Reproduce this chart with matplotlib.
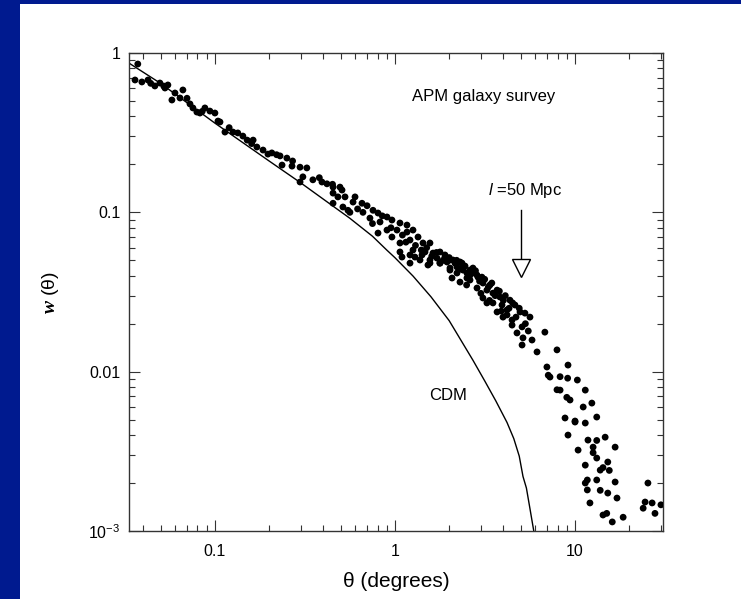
#!/usr/bin/env python3

"""
APM galaxy survey angular correlation function w(theta) against the CDM prediction.
"""

import matplotlib

matplotlib.use("Agg")
import matplotlib.pyplot as plt
from matplotlib.patches import Rectangle

plt.rcParams["font.family"] = ["Liberation Sans", "DejaVu Sans"]
plt.rcParams["mathtext.fontset"] = "custom"
plt.rcParams["mathtext.rm"] = "Liberation Sans"
plt.rcParams["mathtext.it"] = "Liberation Serif:italic:bold"
plt.rcParams["mathtext.sf"] = "Liberation Sans:italic"
plt.rcParams["mathtext.default"] = "regular"

# CDM prediction (theta in degrees, w).
cdm_theta = [0.0333, 0.05, 0.1, 0.2, 0.3, 0.4, 0.56, 0.75, 0.9, 1.0, 1.26, 1.585, 2.0, 2.71,
             3.16, 3.63, 4.19, 4.57, 4.9, 5.14, 5.37, 5.62, 5.9]
cdm_w = [0.865, 0.644, 0.363, 0.21, 0.153, 0.121, 0.092, 0.0708, 0.058, 0.0519, 0.0398, 0.0295,
         0.0209, 0.0118, 0.0087, 0.00656, 0.0048, 0.0038, 0.00295, 0.0022, 0.00186, 0.00138, 0.001]

apm_theta = [
    # small scales
    0.0373, 0.0360, 0.0393, 0.0425, 0.0464, 0.0495, 0.0528, 0.0548, 0.0577, 0.0600,
    0.0640, 0.0664, 0.0727, 0.0755, 0.0794, 0.0826, 0.0880, 0.0938, 0.100, 0.104,
    0.1067, 0.1137, 0.126, 0.134, 0.143, 0.151, 0.163, 0.171, 0.185, 0.197,
    0.207, 0.230, 0.251, 0.236, 0.268, 0.297, 0.324, 0.297, 0.308, 0.350,
    0.393, 0.419, 0.453, 0.495, 0.528, 0.548,
    0.044, 0.052, 0.070, 0.085, 0.12, 0.16, 0.22, 0.27, 0.38, 0.45,
    # around one degree
    0.453, 0.482, 0.508, 0.453, 0.514, 0.585, 0.656, 0.562, 0.664, 0.755,
    0.805, 0.726, 0.826, 0.903, 0.962, 1.066, 1.166, 0.903, 1.026, 1.166,
    1.259, 1.343, 1.212, 1.066, 1.431, 1.564, 1.259, 1.468, 1.626, 1.778,
    1.896, 2.021, 2.154, 2.297, 2.387, 2.61, 2.71, 2.89, 1.094, 1.212,
    1.564, 1.377, 0.805, 0.962, 1.778, 2.021, 2.21, 2.51,
    0.60, 0.70, 0.62, 0.85, 0.95, 1.10, 1.15, 0.75,
    # few degrees
    1.066, 1.212, 1.291, 1.413, 1.564, 1.525, 1.711, 1.778, 1.896, 1.945,
    2.021, 2.1, 2.21, 2.356, 2.387, 2.51, 2.074, 2.297, 2.61, 2.71,
    2.855, 3.04, 3.08, 3.24, 3.37, 3.5, 3.69, 3.83, 2.855, 3.08,
    3.5, 3.93, 4.19, 4.35, 4.64, 4.95, 5.27, 5.62, 3.98, 4.47,
    5.08, 4.76, 5.14, 5.77, 5.08, 4.19, 4.47, 3.24, 3.69,
    1.3, 1.4, 1.5, 1.6, 1.7, 1.85, 2.0, 2.2, 2.3, 2.45,
    2.6, 2.8, 2.95, 3.15, 3.3, 3.45, 3.6, 3.8, 4.0, 4.1,
    4.3, 4.5, 4.7, 4.9, 5.3, 5.5, 3.0, 3.35, 3.9, 2.5,
    # large scales
    6.8, 7.94, 6.15, 6.98, 9.14, 7.26, 10.3, 8.26, 11.4, 9.38,
    12.4, 8.8, 10.0, 11.4, 13.2, 9.14, 11.8, 14.7, 10.4, 12.6,
    16.7, 13.2, 15.2, 11.4, 13.8, 11.7, 13.2, 16.7, 11.7, 15.2,
    17.1, 12.1, 14.3, 16.1, 18.5, 25.4, 24.5, 26.8, 30.0, 23.9,
    27.8, 7.1, 8.26, 9.1, 7.94, 9.0, 11.1, 10.0, 13.2, 12.6,
    14.3, 15.5, 11.4, 13.8, 15.0,
]
apm_w = [
    0.853, 0.677, 0.658, 0.677, 0.621, 0.648, 0.603, 0.630, 0.507, 0.561,
    0.522, 0.586, 0.479, 0.452, 0.426, 0.420, 0.452, 0.432, 0.420, 0.374,
    0.369, 0.319, 0.319, 0.315, 0.301, 0.284, 0.284, 0.257, 0.246, 0.232,
    0.236, 0.226, 0.219, 0.198, 0.195, 0.192, 0.190, 0.155, 0.167, 0.160,
    0.155, 0.151, 0.144, 0.144, 0.125, 0.103,
    0.645, 0.62, 0.52, 0.43, 0.34, 0.27, 0.23, 0.21, 0.165, 0.15,
    0.132, 0.125, 0.138, 0.114, 0.108, 0.116, 0.114, 0.100, 0.100, 0.103,
    0.099, 0.092, 0.087, 0.0935, 0.0895, 0.0857, 0.0832, 0.0774, 0.0774, 0.0752,
    0.0774, 0.070, 0.067, 0.0642, 0.0642, 0.0642, 0.058, 0.0564, 0.0555, 0.0564,
    0.0524, 0.0502, 0.048, 0.0488, 0.0454, 0.0434, 0.0416, 0.0392, 0.0524, 0.048,
    0.048, 0.0502, 0.0741, 0.070, 0.048, 0.0434, 0.0416, 0.0387,
    0.125, 0.11, 0.105, 0.095, 0.08, 0.072, 0.065, 0.085,
    0.0564, 0.054, 0.0524, 0.054, 0.0502, 0.0467, 0.0516, 0.048, 0.054, 0.0488,
    0.0447, 0.0502, 0.0454, 0.048, 0.0434, 0.0416, 0.0387, 0.0365, 0.0376, 0.0447,
    0.0404, 0.0392, 0.036, 0.0325, 0.035, 0.0311, 0.0325, 0.0294, 0.0335, 0.029,
    0.027, 0.0262, 0.0244, 0.0281, 0.0262, 0.0237, 0.0233, 0.022, 0.022, 0.0211,
    0.0191, 0.0175, 0.0163, 0.0158, 0.0147, 0.0227, 0.0196, 0.027, 0.0237,
    0.062, 0.058, 0.060, 0.053, 0.056, 0.050, 0.052, 0.050, 0.044, 0.046,
    0.040, 0.043, 0.037, 0.038, 0.034, 0.036, 0.030, 0.032, 0.028, 0.030,
    0.025, 0.027, 0.022, 0.025, 0.020, 0.018, 0.031, 0.028, 0.024, 0.035,
    0.0177, 0.0137, 0.0133, 0.0107, 0.011, 0.00925, 0.00886, 0.00766, 0.00766, 0.00664,
    0.00635, 0.00512, 0.00483, 0.00476, 0.00519, 0.004, 0.00372, 0.00388, 0.00322, 0.00336,
    0.00336, 0.00287, 0.00271, 0.00259, 0.00241, 0.00209, 0.00209, 0.00203, 0.00181, 0.00173,
    0.00161, 0.0015, 0.00126, 0.00114, 0.00122, 0.002, 0.00152, 0.0015, 0.00146, 0.00139,
    0.00129, 0.0095, 0.0093, 0.0091, 0.0077, 0.0069, 0.006, 0.0049, 0.0037, 0.0031,
    0.0025, 0.0024, 0.002, 0.0018, 0.00129,
]

x_ticks = [0.1, 1, 10]
x_tick_labels = ["0.1", "1", "10"]
y_ticks = [1e-3, 1e-2, 0.1, 1]
y_tick_labels = ["10$^{-3}$", "0.01", "0.1", "1"]

fig = plt.figure(figsize=(7.41, 5.99), dpi=100)
fig.patch.set_facecolor("white")
# Slide frame: blue strip on the left and along the top.
fig.patches.append(Rectangle((0, 0), 20 / 741, 1, transform=fig.transFigure,
                             facecolor="#001a8f", edgecolor="none", zorder=0))
fig.patches.append(Rectangle((0, 1 - 4 / 599), 1, 4 / 599, transform=fig.transFigure,
                             facecolor="#001a8f", edgecolor="none", zorder=0))

ax = fig.add_axes([129 / 741, 1 - 531 / 599, 534 / 741, 478 / 599])
ax.set_xscale("log")
ax.set_yscale("log")
ax.set_xlim(1 / 30, 30.8)
ax.set_ylim(1e-3, 1)

ax.plot(cdm_theta, cdm_w, color="black", lw=1.0)
ax.scatter(apm_theta, apm_w, s=24, color="black", edgecolors="none", zorder=3)

# Arrow marking l = 50 Mpc.
ax.plot([5.0, 5.0], [0.103, 0.05], color="black", lw=1.0)
ax.plot([5.0], [0.045], marker="v", markersize=13.5, markerfacecolor="white",
        markeredgecolor="black", markeredgewidth=1.0, linestyle="none")

ax.text(3.1, 0.53, "APM galaxy survey", ha="center", va="center", fontsize=12)
ax.text(5.27, 0.138, r"$\mathsf{l}$ =50 Mpc", ha="center", va="center", fontsize=12)
ax.text(1.97, 0.0071, "CDM", ha="center", va="center", fontsize=12)

ax.set_xticks(x_ticks)
ax.set_xticklabels(x_tick_labels)
ax.set_yticks(y_ticks)
ax.set_yticklabels(y_tick_labels)
ax.tick_params(which="both", direction="in", top=True, right=True, color="#333333", width=0.8)
ax.tick_params(which="major", length=8, labelsize=11.5)
ax.tick_params(which="minor", length=4)
ax.tick_params(axis="y", which="major", pad=6)
ax.tick_params(axis="x", which="major", pad=9)
for spine in ax.spines.values():
    spine.set_color("#333333")
    spine.set_linewidth(1.0)

ax.set_xlabel("θ (degrees)", fontsize=15, labelpad=10)
ax.set_ylabel(r"$\mathit{w}$ (θ)", fontsize=14, labelpad=20)

fig.savefig("out.png", dpi=100, facecolor=fig.get_facecolor())
